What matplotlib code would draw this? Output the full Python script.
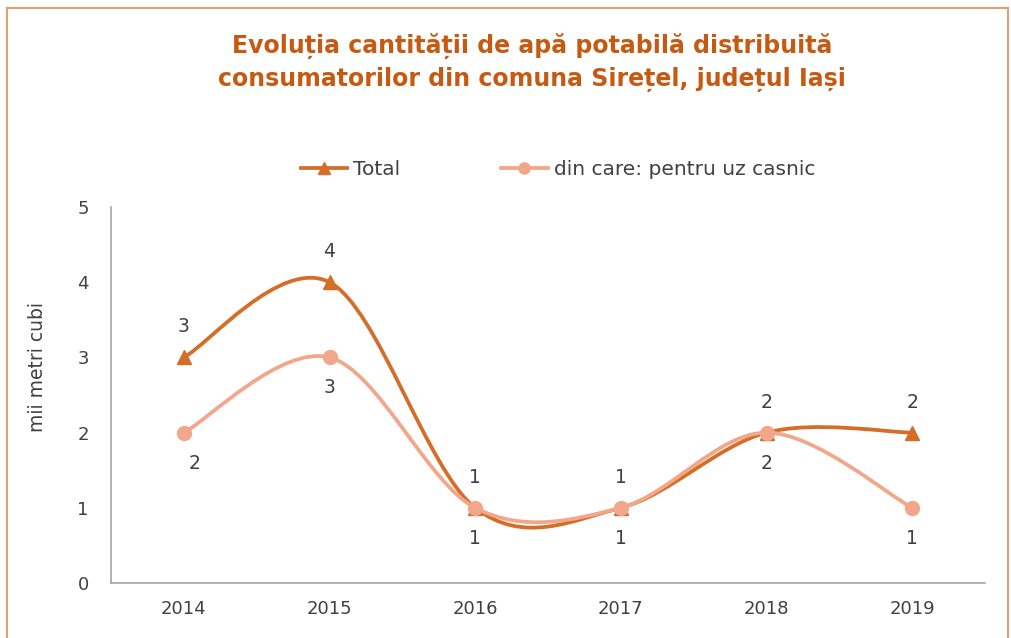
import numpy as np
import matplotlib.pyplot as plt
from matplotlib.path import Path
from matplotlib.patches import PathPatch, Rectangle
from matplotlib.lines import Line2D

# Date
years = ["2014", "2015", "2016", "2017", "2018", "2019"]
total = [3, 4, 1, 1, 2, 2]
casnic = [2, 3, 1, 1, 2, 1]

c_total = "#D36D27"
c_casnic = "#F2A68A"
c_title = "#C65A12"
c_text = "#404040"

plt.rcParams['font.family'] = ['DejaVu Sans']


def smooth_path(x, y):
    # curba netezita ca in Excel (Bezier din Catmull-Rom)
    x = np.asarray(x, float)
    y = np.asarray(y, float)
    pts = np.column_stack([x, y])
    verts = [pts[0]]
    codes = [Path.MOVETO]
    n = len(pts)
    for i in range(n - 1):
        p0 = pts[i - 1] if i > 0 else pts[i]
        p1 = pts[i]
        p2 = pts[i + 1]
        p3 = pts[i + 2] if i + 2 < n else pts[i + 1]
        c1 = p1 + (p2 - p0) / 6
        c2 = p2 - (p3 - p1) / 6
        verts += [c1, c2, p2]
        codes += [Path.CURVE4] * 3
    return Path(verts, codes)


fig = plt.figure(figsize=(10.11, 6.38), dpi=100)
ax = fig.add_axes([0.1098, 0.0862, 0.8645, 0.5893])

x = np.arange(len(years))

ax.add_patch(PathPatch(smooth_path(x, total), fill=False, edgecolor=c_total,
                       linewidth=2.7, capstyle='round', zorder=3))
ax.plot(x, total, linestyle='none', marker='^', markersize=10, color=c_total, zorder=4)

ax.add_patch(PathPatch(smooth_path(x, casnic), fill=False, edgecolor=c_casnic,
                       linewidth=2.7, capstyle='round', zorder=3))
ax.plot(x, casnic, linestyle='none', marker='o', markersize=10, color=c_casnic, zorder=4)

for xi, v in zip(x, total):
    ax.annotate(str(v), (xi, v), xytext=(0, 22), textcoords='offset points',
                ha='center', va='center', fontsize=13.5, color=c_text)
for xi, v in zip(x, casnic):
    dx = 8 if xi == 0 else 0
    ax.annotate(str(v), (xi, v), xytext=(dx, -22), textcoords='offset points',
                ha='center', va='center', fontsize=13.5, color=c_text)

ax.set_xlim(-0.5, len(years) - 0.5)
ax.set_ylim(0, 5)
ax.set_xticks(x)
ax.set_xticklabels(years)
ax.set_yticks(range(6))
ax.tick_params(axis='both', length=0, labelsize=13, labelcolor=c_text)
ax.tick_params(axis='x', pad=12)
ax.tick_params(axis='y', pad=16)
for s in ['top', 'right']:
    ax.spines[s].set_visible(False)
for s in ['left', 'bottom']:
    ax.spines[s].set_color('#A6A6A6')
    ax.spines[s].set_linewidth(1.2)

fig.text(0.037, 0.425, "mii metri cubi", rotation=90, ha='center', va='center',
         fontsize=13.5, color=c_text)

fig.text(0.526, 0.902, "Evoluția cantității de apă potabilă distribuită\n"
         "consumatorilor din comuna Sirețel, județul Iași",
         ha='center', va='center', fontsize=17, fontweight='bold',
         color=c_title, linespacing=1.45)

handles = [
    Line2D([], [], color=c_total, linewidth=2.7, marker='^', markersize=8),
    Line2D([], [], color=c_casnic, linewidth=2.7, marker='o', markersize=8),
]
fig.legend(handles, ["Total", "din care: pentru uz casnic"], loc='center',
           bbox_to_anchor=(0.552, 0.735), ncol=2, frameon=False, fontsize=14.5,
           labelcolor=c_text, handlelength=2.3, handletextpad=0.3, columnspacing=5.0)

# chenarul graficului
fig.patches.append(Rectangle((0.007, -0.05), 0.990, 1.037, transform=fig.transFigure,
                             fill=False, edgecolor='#E0A070', linewidth=1.5))

plt.savefig("out.png", dpi=100)
